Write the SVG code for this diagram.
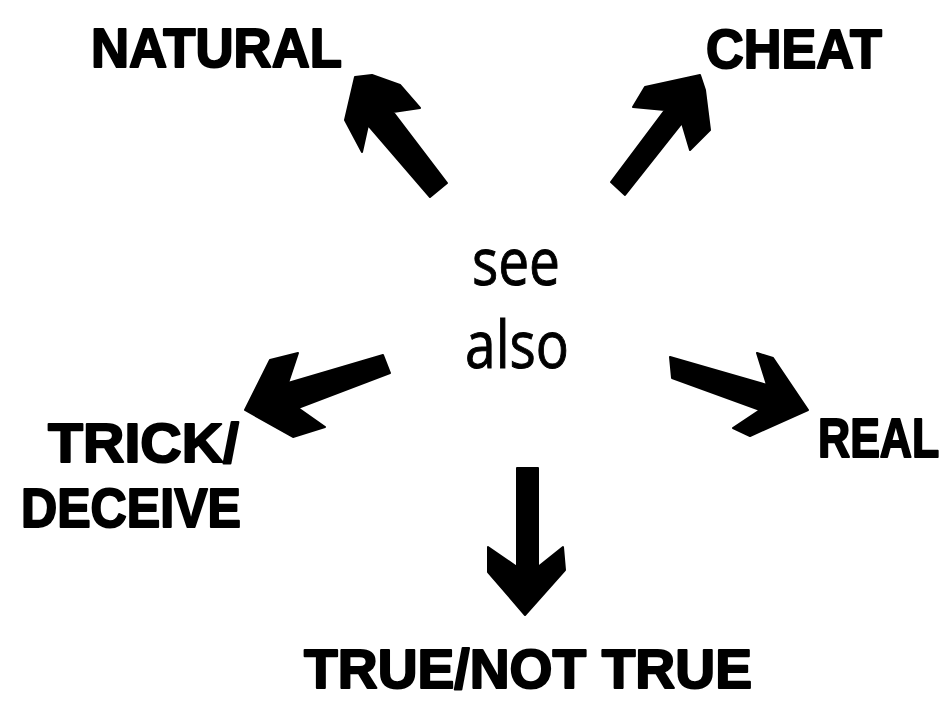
<svg xmlns="http://www.w3.org/2000/svg" width="952" height="702" viewBox="0 0 952 702">
<style>
.lbl{font-family:"Liberation Sans",Arial,sans-serif;font-weight:900;font-size:55px;fill:#000;stroke:#000;stroke-width:2;stroke-linejoin:round}
.ctr{font-family:"Open Sans","Liberation Sans",sans-serif;font-size:66px;fill:#000;stroke:#000;stroke-width:1}
.arr{fill:#000;stroke:#000;stroke-width:2;stroke-linejoin:round}
</style>
<rect width="952" height="702" fill="#fff"/>
<g id="connectors">
<polygon class="arr" points="355,77 372,75 400,85 420,108 393,112 447,183 430,197 368,125 362,152 345,120"/>
<polygon class="arr" points="645,87 700,75 705,90 710,130 690,150 682,123 625,195 611,182 665,110 633,107"/>
<polygon class="arr" points="245,410 270,360 298,353 288,383 383,355 390,373 298,408 325,427 293,437"/>
<polygon class="arr" points="670,357 767,385 757,353 773,358 808,410 750,436 733,428 760,410 672,378"/>
<polygon class="arr" points="517,468 538,468 538,567 563,547 565,570 525,615 488,572 488,547 517,567"/>
</g>
<g id="center"><text class="ctr" x="472" y="285" textLength="88" lengthAdjust="spacingAndGlyphs">see</text><text class="ctr" x="465" y="368" textLength="104" lengthAdjust="spacingAndGlyphs">also</text></g>
<g id="natural"><text class="lbl" x="91" y="67" textLength="251" lengthAdjust="spacingAndGlyphs">NATURAL</text></g>
<g id="cheat"><text class="lbl" x="706" y="68" textLength="176" lengthAdjust="spacingAndGlyphs">CHEAT</text></g>
<g id="trick"><text class="lbl" x="48" y="462" textLength="191" lengthAdjust="spacingAndGlyphs">TRICK/</text><text class="lbl" x="21" y="527" textLength="220" lengthAdjust="spacingAndGlyphs">DECEIVE</text></g>
<g id="real"><text class="lbl" transform="translate(818,457) scale(0.81,1)" x="0" y="0">REAL</text></g>
<g id="truenottrue"><text class="lbl" x="304" y="688" textLength="448" lengthAdjust="spacingAndGlyphs">TRUE/NOT TRUE</text></g>
</svg>
